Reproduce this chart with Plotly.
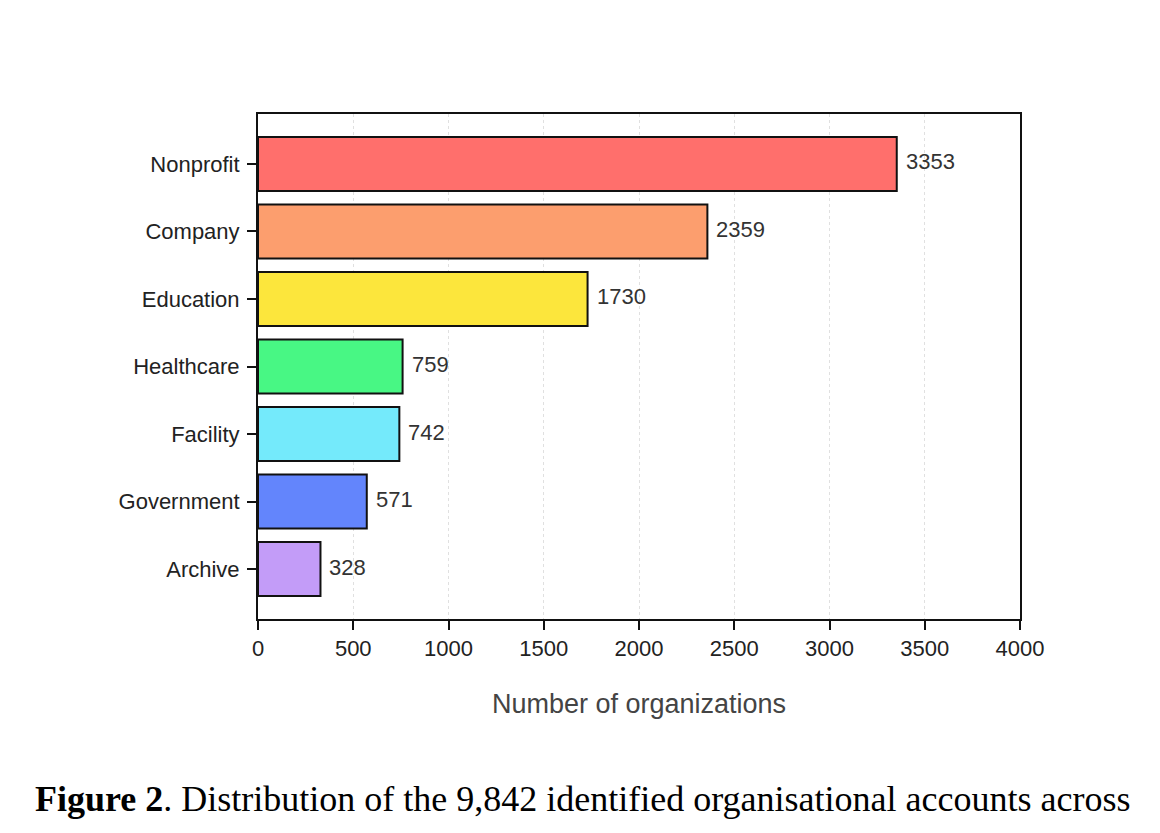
import plotly.graph_objects as go

categories = ["Nonprofit", "Company", "Education", "Healthcare", "Facility", "Government", "Archive"]
counts = [3353, 2359, 1730, 759, 742, 571, 328]
colors = ["#FF6F6C", "#FC9E6E", "#FCE63C", "#48F784", "#74EAFB", "#6385FC", "#C39CF8"]
x_ticks = [0, 500, 1000, 1500, 2000, 2500, 3000, 3500, 4000]
x_title = "Number of organizations"
caption_bold = "Figure 2"
caption_rest = ". Distribution of the 9,842 identified organisational accounts across"

fig = go.Figure()
fig.add_trace(go.Bar(
    x=counts, y=categories, orientation="h",
    marker=dict(color=colors, line=dict(color="#111111", width=2)),
    width=0.8, showlegend=False, hoverinfo="x+y",
))

for c, v in zip(categories, counts):
    fig.add_annotation(x=v, y=c, text=str(v), showarrow=False, xanchor="left",
                       yanchor="middle", xshift=7, yshift=2,
                       font=dict(family="Liberation Sans, Arial", size=22, color="#333333"))

fig.add_annotation(xref="paper", yref="paper", x=0, y=0, xanchor="left", yanchor="middle",
                   xshift=-225, yshift=-180, showarrow=False,
                   text=f"<b>{caption_bold}</b>{caption_rest}",
                   font=dict(family="Liberation Serif, Times New Roman", size=36, color="#000000"))

fig.update_layout(
    width=1160, height=833,
    margin=dict(l=258, r=140, t=114, b=214),
    paper_bgcolor="white", plot_bgcolor="white",
    font=dict(family="Liberation Sans, Arial", size=22, color="#222222"),
    bargap=0.2,
)
fig.update_xaxes(
    range=[0, 4000], tickvals=x_ticks, ticktext=[str(t) for t in x_ticks],
    showgrid=True, gridcolor="#E0E0E0", griddash="dot", gridwidth=1,
    showline=True, linecolor="#111111", linewidth=2, mirror=True,
    ticks="outside", ticklen=9, tickwidth=2, tickcolor="#111111",
    zeroline=False,
    title=dict(text=x_title, font=dict(size=27, color="#444444"), standoff=34),
    tickfont=dict(size=22, color="#222222"),
)
fig.update_yaxes(
    categoryorder="array", categoryarray=categories, autorange=False,
    range=[6.74, -0.74],
    showline=True, linecolor="#111111", linewidth=2, mirror=True,
    ticks="outside", ticklen=9, tickwidth=2, tickcolor="#111111",
    ticklabelstandoff=3,
    showgrid=False, tickfont=dict(size=22, color="#222222"),
)

fig.write_html("out.html")
